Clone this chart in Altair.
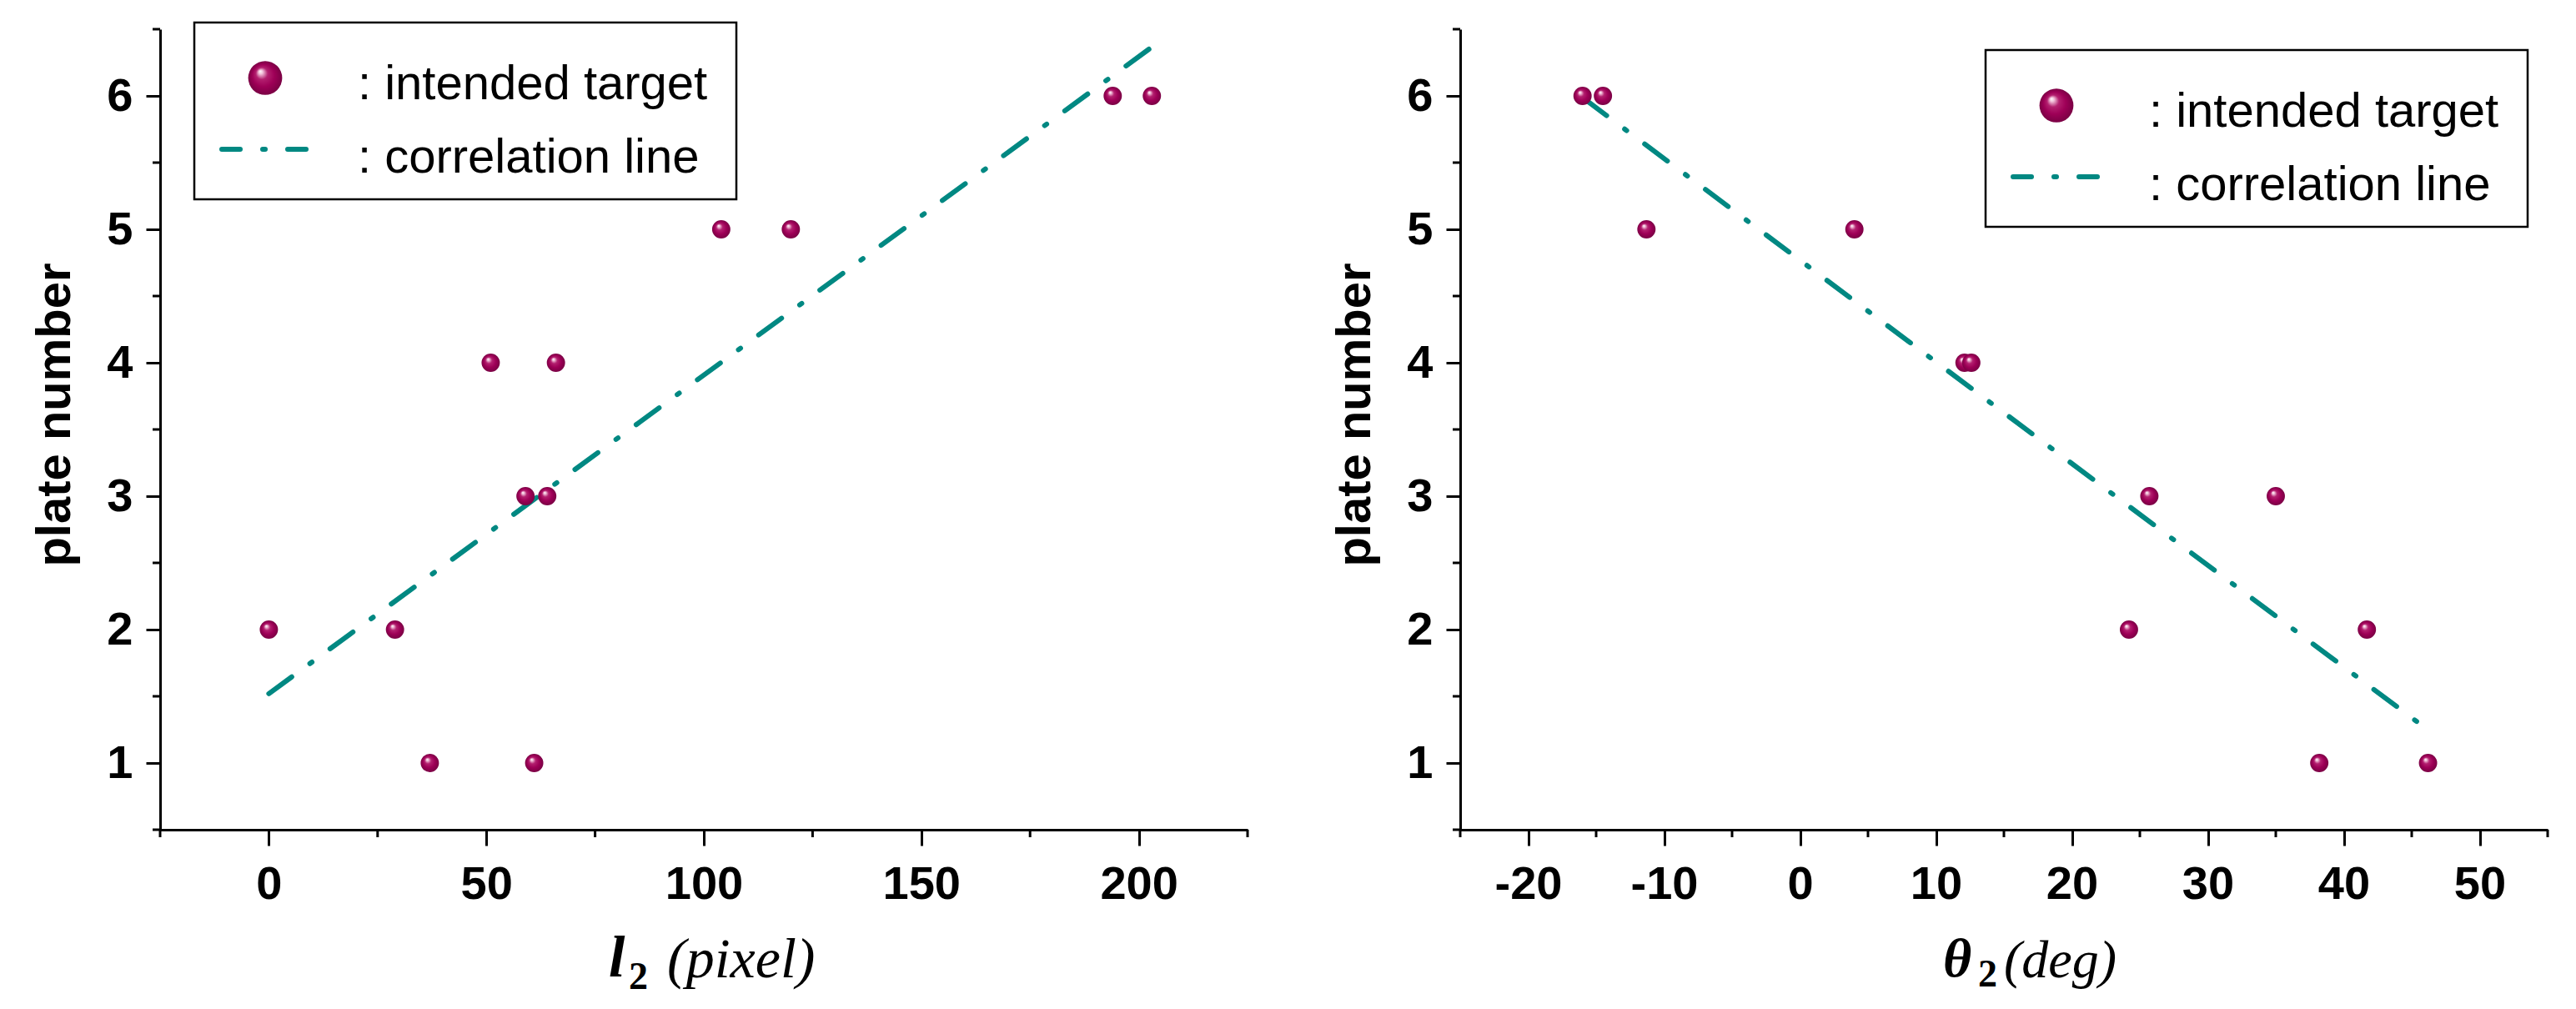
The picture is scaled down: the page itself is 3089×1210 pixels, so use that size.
import altair as alt
import pandas as pd

# ---------------- data ----------------
l2_values = [0, 29, 37, 61, 51, 66, 59, 64, 104, 120, 194, 203]
l2_plate = [2, 2, 1, 1, 4, 4, 3, 3, 5, 5, 6, 6]
l2_line_x = [0, 204]
l2_line_y = [1.52, 6.39]

theta_values = [-16.0, -14.5, -11.3, 4.0, 12.1, 12.6, 25.7, 35.0, 24.2, 41.7, 38.2, 46.2]
theta_plate = [6, 6, 5, 5, 4, 4, 3, 3, 2, 2, 1, 1]
theta_line_x = [-15.9, 46.3]
theta_line_y = [5.98, 1.24]

legend_labels = [": intended target", ": correlation line"]
y_title = "plate number"

l2_major = [0, 50, 100, 150, 200]
l2_minor = [-25, 25, 75, 125, 175, 225]
theta_major = [-20, -10, 0, 10, 20, 30, 40, 50]
theta_minor = [-25, -15, -5, 5, 15, 25, 35, 45, 55]
plate_major = [1, 2, 3, 4, 5, 6]
plate_minor = [0.5, 1.5, 2.5, 3.5, 4.5, 5.5, 6.5]

# ---------------- styling ----------------
SANS = "Liberation Sans, Arial, Helvetica, sans-serif"
SERIF = "Liberation Serif, Times New Roman, DejaVu Serif, serif"
TEAL = "#008882"
W, H = 1304, 960

sphere = alt.RadialGradient(
    gradient="radial",
    stops=[
        alt.GradientStop(offset=0, color="#ffffff"),
        alt.GradientStop(offset=0.12, color="#f2c4db"),
        alt.GradientStop(offset=0.35, color="#b3206f"),
        alt.GradientStop(offset=0.65, color="#9e0057"),
        alt.GradientStop(offset=1, color="#7a0044"),
    ],
    x1=0.35, y1=0.3, r1=0, x2=0.5, y2=0.5, r2=0.5,
)


def axis_common(values, tick_size, label_pad):
    return dict(
        values=values,
        labelExpr="'' + datum.value",
        grid=False,
        domainColor="black",
        domainWidth=3,
        tickColor="black",
        tickWidth=3,
        tickSize=tick_size,
        labelFont=SANS,
        labelFontSize=56,
        labelFontWeight="bold",
        labelColor="black",
        labelPadding=label_pad,
        labelFlush=False,
        labelOverlap=False,
    )


def panel(xs, ys, lx, ly, xdom, xmajor, xminor, legend_origin, title_parts):
    pts = pd.DataFrame({"x": xs, "y": ys})
    ln = pd.DataFrame({"x": lx, "y": ly})
    xenc = alt.X(
        "x:Q",
        scale=alt.Scale(domain=xdom, nice=False, zero=False),
        axis=alt.Axis(title=None, **axis_common(xmajor, 19, 19)),
    )
    yenc = alt.Y(
        "y:Q",
        scale=alt.Scale(domain=[0.5, 6.5], nice=False, zero=False),
        axis=alt.Axis(
            title=y_title,
            titleFont=SANS,
            titleFontSize=58,
            titleFontWeight="bold",
            titleColor="black",
            titleAngle=270,
            titleAlign="center",
            titleBaseline="alphabetic",
            titleX=-109,
            titleY=462,
            **axis_common(plate_major, 17, 16),
        ),
    )
    d = pd.DataFrame({"k": [0]})

    xminor_rules = alt.Chart(pd.DataFrame({"x": xminor})).mark_rule(
        color="black", strokeWidth=3
    ).encode(x=xenc, y=alt.value(H), y2=alt.value(H + 9))
    yminor_rules = alt.Chart(pd.DataFrame({"y": plate_minor})).mark_rule(
        color="black", strokeWidth=3
    ).encode(y=yenc, x=alt.value(-9), x2=alt.value(0))

    line = alt.Chart(ln).mark_line(
        color=TEAL, strokeWidth=6, strokeDash=[34, 27, 3, 27], strokeCap="round"
    ).encode(x=xenc, y=yenc)
    points = alt.Chart(pts).mark_point(
        shape="circle", filled=True, fill=sphere, size=480, opacity=1, strokeWidth=0
    ).encode(x=xenc, y=yenc)

    bx, by = legend_origin
    box = alt.Chart(d).mark_rect(fill="white", stroke="black", strokeWidth=2.5).encode(
        x=alt.value(bx), x2=alt.value(bx + 650), y=alt.value(by), y2=alt.value(by + 212)
    )
    leg_sphere = alt.Chart(d).mark_point(
        shape="circle", filled=True, fill=sphere, size=1660, opacity=1, strokeWidth=0
    ).encode(x=alt.value(bx + 85), y=alt.value(by + 66.5))
    leg_line = alt.Chart(d).mark_rule(
        color=TEAL, strokeWidth=6, strokeDash=[22, 27, 3, 27], strokeCap="round"
    ).encode(x=alt.value(bx + 33), x2=alt.value(bx + 134), y=alt.value(by + 152))
    leg_t1 = alt.Chart(d).mark_text(
        text=legend_labels[0], align="left", baseline="alphabetic",
        font=SANS, fontSize=58, color="black",
    ).encode(x=alt.value(bx + 196), y=alt.value(by + 92))
    leg_t2 = alt.Chart(d).mark_text(
        text=legend_labels[1], align="left", baseline="alphabetic",
        font=SANS, fontSize=58, color="black",
    ).encode(x=alt.value(bx + 196), y=alt.value(by + 180))

    layers = [xminor_rules, yminor_rules, line, points, box, leg_sphere, leg_line, leg_t1, leg_t2]
    for txt, px, py, size, style, weight in title_parts:
        layers.append(
            alt.Chart(d).mark_text(
                text=txt, align="left", baseline="alphabetic", font=SERIF,
                fontSize=size, fontStyle=style, fontWeight=weight, color="black",
            ).encode(x=alt.value(px), y=alt.value(py))
        )
    return alt.layer(*layers).properties(width=W, height=H)


left = panel(
    l2_values, l2_plate, l2_line_x, l2_line_y, [-25, 225], l2_major, l2_minor, (41, -8),
    [("l", 538, H + 176, 70, "italic", "bold"),
     ("2", 562, H + 191, 46, "normal", "bold"),
     ("(pixel)", 608, H + 177, 68, "italic", "normal")],
)
right = panel(
    theta_values, theta_plate, theta_line_x, theta_line_y, [-25, 55], theta_major, theta_minor,
    (630, 25),
    [("θ", 579, H + 176, 66, "italic", "bold"),
     ("2", 621, H + 188, 46, "normal", "bold"),
     ("(deg)", 652, H + 177, 64, "italic", "normal")],
)

chart = (
    alt.hconcat(left, right, spacing=255, bounds="flush")
    .properties(padding={"left": 29, "top": 17, "right": 0, "bottom": 0}, background="white")
    .configure_view(strokeWidth=0)
)

chart.save("out.html", embed_options={"renderer": "svg", "actions": False})
